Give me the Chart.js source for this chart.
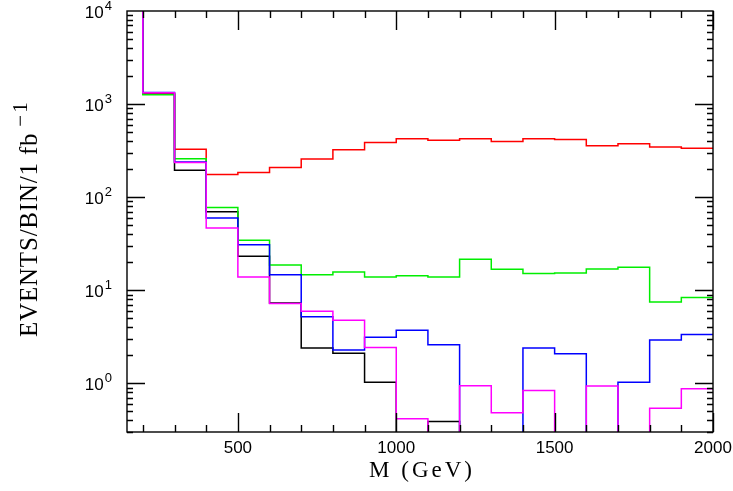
<!DOCTYPE html>
<html>
<head>
<meta charset="utf-8">
<script src="https://cdn.jsdelivr.net/npm/chart.js@4.4.1/dist/chart.umd.min.js"></script>
<style>
  html, body { margin: 0; padding: 0; background: #fff; }
  #wrap { width: 733px; height: 491px; }
</style>
</head>
<body>
<div id="wrap"><canvas id="chart" width="733" height="491"></canvas></div>
<script>
// Bin edges in GeV. The 100-200 bin sits above the top of the plot.
const binEdges = [100, 200, 300, 400, 500, 600, 700, 800, 900, 1000, 1100, 1200, 1300, 1400, 1500, 1600, 1700, 1800, 1900, 2000];

// Events per bin, one entry per bin (0 = empty / below the plot).
const blackCounts = [20000, 1300, 195, 69.5, 23.2, 7.3, 2.4, 2.1, 1.03, 0, 0.39, 0, 0, 0, 0, 0, 0, 0, 0];
const redCounts = [20000, 1280, 328, 175, 184, 208, 257, 323, 387, 424, 410, 424, 397, 424, 417, 356, 374, 345, 336];
const greenCounts = [20000, 1260, 258, 77.5, 34.5, 18.7, 14.7, 15.7, 13.9, 14.3, 13.9, 21.5, 16.8, 15.1, 15.3, 16.9, 17.7, 7.5, 8.35];
const blueCounts = [20000, 1330, 238, 59.8, 30.8, 14.7, 5.2, 2.28, 3.12, 3.71, 2.6, 0, 0, 2.4, 2.08, 0, 1.025, 2.92, 3.34];
const magentaCounts = [20000, 1322, 236, 46.7, 13.9, 7.2, 5.94, 4.76, 2.42, 0.417, 0, 0.94, 0.484, 0.84, 0, 0.935, 0, 0.54, 0.877];

const xTickValues = [500, 1000, 1500, 2000];
const yTickValues = [1, 10, 100, 1000, 10000];
const yTickExponents = ["0", "1", "2", "3", "4"];

const xTitle = "M (GeV)";
const yTitle = "EVENTS/BIN/1 fb";
const yTitleExponent = "\u22121";

(function () {
  const EMPTY = 1e-3;
  const SANS = '"Liberation Sans", Arial, sans-serif';
  const SERIF = '"Liberation Serif", "Times New Roman", serif';

  function histogram(counts) {
    return binEdges.map((x, i) => ({ x, y: counts[Math.min(i, counts.length - 1)] || EMPTY }));
  }

  function series(counts, color) {
    return {
      data: histogram(counts),
      borderColor: color,
      borderWidth: 1.5,
      stepped: true,
      pointRadius: 0,
      fill: false,
    };
  }

  // box round the plot with inward ticks on all four sides
  const frameTicks = {
    id: "frameTicks",
    afterDatasetsDraw(chart) {
      const { ctx, chartArea: a, scales: { x, y } } = chart;
      ctx.save();
      ctx.strokeStyle = "#000";
      ctx.lineWidth = 1.4;
      ctx.beginPath();
      for (let v = 200; v <= 2000; v += 100) {
        const px = Math.round(x.getPixelForValue(v)) + 0.5;
        const len = v % 500 === 0 ? 19 : 7;
        ctx.moveTo(px, a.bottom);
        ctx.lineTo(px, a.bottom - len);
        ctx.moveTo(px, a.top);
        ctx.lineTo(px, a.top + len);
      }
      for (let d = -1; d <= 3; d++) {
        for (let m = 1; m <= 9; m++) {
          const v = m * Math.pow(10, d);
          if (v < y.min || v > y.max) continue;
          const py = Math.round(y.getPixelForValue(v)) + 0.5;
          const len = m === 1 ? 18 : 6;
          ctx.moveTo(a.left, py);
          ctx.lineTo(a.left + len, py);
          ctx.moveTo(a.right, py);
          ctx.lineTo(a.right - len, py);
        }
      }
      ctx.stroke();
      ctx.strokeRect(a.left, a.top, a.right - a.left, a.bottom - a.top);
      ctx.restore();
    },
  };

  // power-of-ten labels and the two axis titles (need superscripts / letter spacing)
  const axisText = {
    id: "axisText",
    afterDraw(chart) {
      const { ctx, chartArea: a, scales: { y } } = chart;
      ctx.save();
      ctx.fillStyle = "#000";
      ctx.textBaseline = "alphabetic";

      yTickValues.forEach((value, i) => {
        const py = y.getPixelForValue(value);
        ctx.font = `13px ${SANS}`;
        const expWidth = ctx.measureText(yTickExponents[i]).width;
        const right = 112;
        ctx.textAlign = "left";
        ctx.fillText(yTickExponents[i], right - expWidth, py - 1);
        ctx.font = `17px ${SANS}`;
        ctx.textAlign = "right";
        ctx.fillText("10", right - expWidth - 1, py + 7);
      });

      if ("letterSpacing" in ctx) ctx.letterSpacing = "3px";
      ctx.font = `23px ${SERIF}`;
      ctx.textAlign = "center";
      ctx.fillText(xTitle, (a.left + a.right) / 2 + 2, 477);

      // rotated y title, read bottom to top, starting near y = 337
      if ("letterSpacing" in ctx) ctx.letterSpacing = "0.8px";
      ctx.translate(36.5, 218);
      ctx.rotate(-Math.PI / 2);
      ctx.textAlign = "left";
      ctx.font = `25px ${SERIF}`;
      const start = -119;
      const mainWidth = ctx.measureText(yTitle).width;
      ctx.fillText(yTitle, start, 0);
      if ("letterSpacing" in ctx) ctx.letterSpacing = "2px";
      ctx.font = `21px ${SERIF}`;
      ctx.fillText(yTitleExponent, start + mainWidth + 6, -10);
      ctx.restore();
    },
  };

  new Chart(document.getElementById("chart"), {
    type: "line",
    data: {
      datasets: [
        series(magentaCounts, "#ff00ff"),
        series(blueCounts, "#0000ff"),
        series(greenCounts, "#00ee00"),
        series(redCounts, "#ff0000"),
        series(blackCounts, "#000000"),
      ],
    },
    options: {
      responsive: false,
      animation: false,
      devicePixelRatio: 1,
      layout: { padding: { top: 11, right: 20, left: 0, bottom: 0 } },
      plugins: { legend: { display: false }, tooltip: { enabled: false } },
      scales: {
        x: {
          type: "linear",
          min: 150,
          max: 2000,
          afterFit: (scale) => {
            scale.height = 59;
            scale.paddingLeft = 0;
            scale.paddingRight = 0;
          },
          afterBuildTicks: (scale) => { scale.ticks = xTickValues.map((value) => ({ value })); },
          grid: { display: false, drawTicks: false },
          border: { display: false },
          ticks: { callback: (value) => String(value), font: { family: SANS, size: 17 }, color: "#000", padding: 6, maxRotation: 0, autoSkip: false },
        },
        y: {
          type: "logarithmic",
          min: 0.3,
          max: 10000,
          afterFit: (scale) => { scale.width = 127; },
          afterBuildTicks: (scale) => { scale.ticks = yTickValues.map((value) => ({ value, major: true })); },
          grid: { display: false, drawTicks: false },
          border: { display: false },
          ticks: { display: false },
        },
      },
    },
    plugins: [frameTicks, axisText],
  });
})();
</script>
</body>
</html>
